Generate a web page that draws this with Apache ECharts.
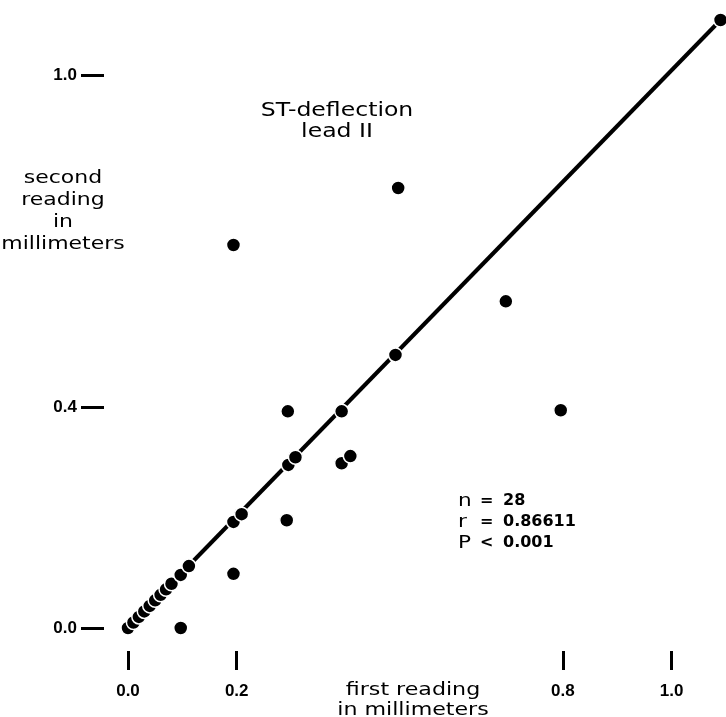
<!DOCTYPE html>
<html>
<head>
<meta charset="utf-8">
<script src="https://cdn.jsdelivr.net/npm/echarts@6/dist/echarts.min.js"></script>
<style>
  html, body { margin: 0; padding: 0; background: #fff; }
  #chart { width: 726px; height: 717px; }
</style>
</head>
<body>
<div id="chart"></div>
<script>
// readings (mm), first vs second
var firstReading = [0.0, 0.01, 0.02, 0.03, 0.04, 0.05, 0.06, 0.07, 0.08,
                    0.097, 0.097, 0.112,
                    0.194, 0.194, 0.209, 0.194,
                    0.294, 0.295, 0.308, 0.292,
                    0.393, 0.393, 0.409,
                    0.492, 0.497, 0.695, 0.796,
                    1.09];
var secondReading = [0.0, 0.01, 0.02, 0.03, 0.04, 0.05, 0.06, 0.07, 0.08,
                     0.0, 0.096, 0.112,
                     0.693, 0.192, 0.206, 0.098,
                     0.392, 0.295, 0.309, 0.195,
                     0.392, 0.298, 0.311,
                     0.494, 0.796, 0.591, 0.394,
                     1.10];
var lineData = [[0, 0], [1.09, 1.10]];

var xTicks = [0, 0.2, 0.8, 1.0];
var yTicks = [0, 0.4, 1.0];

var statNames = ['n', 'r', 'P'];
var statOps = ['=', '=', '<'];
var statValues = ['28', '0.86611', '0.001'];

var points = [];
for (var i = 0; i < firstReading.length; i++) {
  points.push([firstReading[i], secondReading[i]]);
}

var myChart = echarts.init(document.getElementById('chart'));

var fmt = function (v) { return v.toFixed(1); };
var hidden = { show: false };
var labelFont = { color: '#000', fontFamily: 'Liberation Sans', fontWeight: 'bold', fontSize: 17 };

// the ticks sit away from the plot, so they live on shifted copies of the grid
var option = {
  backgroundColor: '#fff',
  animation: false,
  grid: [
    { left: 128, top: 20, width: 600, height: 608 },   // plot
    { left: 104, top: 20, width: 600, height: 608 },   // y ticks
    { left: 128, top: 43, width: 600, height: 608 }    // x ticks
  ],
  xAxis: [
    { gridIndex: 0, type: 'value', min: 0, max: 1.1, axisLine: hidden, axisTick: hidden, axisLabel: hidden, splitLine: hidden },
    { gridIndex: 1, type: 'value', min: 0, max: 1.1, axisLine: hidden, axisTick: hidden, axisLabel: hidden, splitLine: hidden },
    {
      gridIndex: 2, type: 'value', min: 0, max: 1.1,
      axisLine: hidden, splitLine: hidden,
      axisTick: { show: true, length: 19, customValues: xTicks, lineStyle: { color: '#000', width: 3 } },
      axisLabel: Object.assign({ customValues: xTicks, formatter: fmt, margin: 32 }, labelFont)
    }
  ],
  yAxis: [
    { gridIndex: 0, type: 'value', min: 0, max: 1.1, axisLine: hidden, axisTick: hidden, axisLabel: hidden, splitLine: hidden },
    {
      gridIndex: 1, type: 'value', min: 0, max: 1.1,
      axisLine: hidden, splitLine: hidden,
      axisTick: { show: true, length: 23, customValues: yTicks, lineStyle: { color: '#000', width: 3 } },
      axisLabel: Object.assign({ customValues: yTicks, formatter: fmt, margin: 27, padding: [0, 0, 5, 0] }, labelFont)
    },
    { gridIndex: 2, type: 'value', min: 0, max: 1.1, axisLine: hidden, axisTick: hidden, axisLabel: hidden, splitLine: hidden }
  ],
  graphic: [],
  series: [
    {
      type: 'line',
      data: lineData,
      symbol: 'none',
      z: 1,
      lineStyle: { color: '#000', width: 4 }
    },
    {
      type: 'scatter',
      data: points,
      symbolSize: 14,
      clip: false,
      z: 3,
      itemStyle: { color: '#000', borderColor: '#fff', borderWidth: 1.5, opacity: 1 }
    }
  ]
};

// text blocks
var g = option.graphic;
g.push({ type: 'text', x: 63, y: 211, scaleX: 1.22,
  style: { text: 'second\nreading\nin\nmillimeters', font: '18px "DejaVu Sans"',
           fill: '#000', align: 'center', verticalAlign: 'middle', lineHeight: 22 } });
g.push({ type: 'text', x: 337, y: 122, scaleX: 1.24,
  style: { text: 'ST-deflection\nlead II', font: '19px "DejaVu Sans"',
           fill: '#000', align: 'center', verticalAlign: 'middle', lineHeight: 21 } });
g.push({ type: 'text', x: 413, y: 700, scaleX: 1.23,
  style: { text: 'first reading\nin millimeters', font: '18px "DejaVu Sans"',
           fill: '#000', align: 'center', verticalAlign: 'middle', lineHeight: 20 } });
for (var k = 0; k < statNames.length; k++) {
  var yy = 501 + k * 21;
  g.push({ type: 'text', x: 458, y: yy, scaleX: 1.2,
    style: { text: statNames[k], font: '18px "DejaVu Sans"', fill: '#000',
             align: 'left', verticalAlign: 'middle' } });
  g.push({ type: 'text', x: 480, y: yy,
    style: { text: statOps[k], font: 'bold 16px "DejaVu Sans"', fill: '#000',
             align: 'left', verticalAlign: 'middle' } });
  g.push({ type: 'text', x: 503, y: yy,
    style: { text: statValues[k], font: 'bold 16px "DejaVu Sans"', fill: '#000',
             align: 'left', verticalAlign: 'middle' } });
}

myChart.setOption(option);
</script>
</body>
</html>
